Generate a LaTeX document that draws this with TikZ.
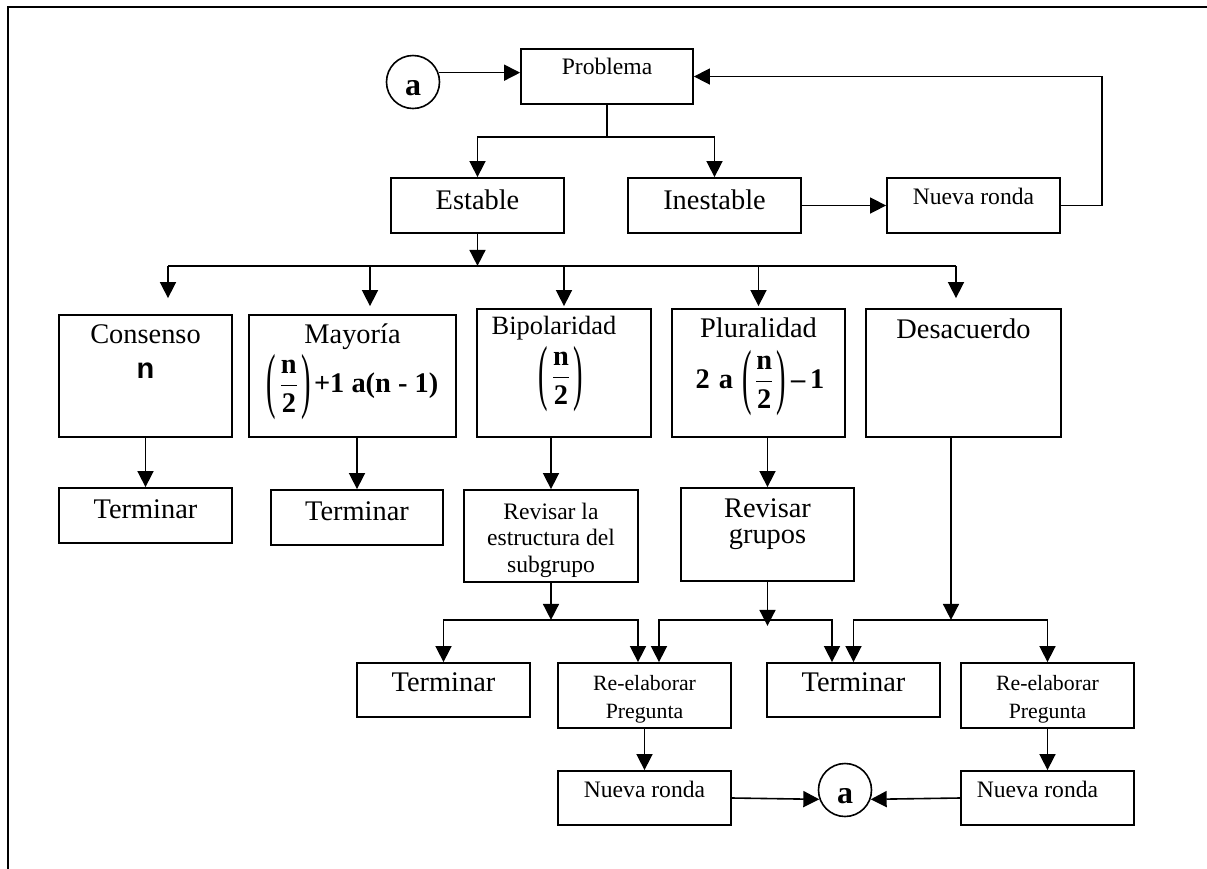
\documentclass[tikz,border=0pt]{standalone}
\usepackage{amsmath}
\usepackage{fontspec}
\setmainfont{Liberation Serif}
\newfontfamily\arialfont{Liberation Sans}
\usetikzlibrary{arrows.meta,positioning}
% tall thin brackets round n/2
\newcommand{\tallparen}[1]{\raisebox{-5.8pt}{\scalebox{1}[2.55]{\mdseries#1}}}
\newcommand{\halfn}{\tallparen{(}\kern1.2pt$\dfrac{\mbox{n}}{\mbox{2}}$\kern1.2pt\tallparen{)}}

\begin{document}
\begin{tikzpicture}[x=1pt,y=-1pt,
  caja/.style={draw,line width=0.9pt,inner sep=0pt},
  txt/.style={inner sep=0pt,align=center,font=\fontsize{14.2pt}{13.3pt}\selectfont},
  txtm/.style={txt,font=\fontsize{13.2pt}{14pt}\selectfont},
  txts/.style={txt,font=\fontsize{11.8pt}{13.2pt}\selectfont},
  txtxs/.style={txt,font=\fontsize{10.9pt}{14pt}\selectfont},
  formula/.style={inner sep=0pt,font=\fontsize{14.2pt}{16pt}\selectfont\bfseries},
  circ/.style={draw,circle,line width=0.8pt,minimum size=26.5pt,inner sep=0pt,
    text height=13pt,text depth=0pt,font=\fontsize{16pt}{16pt}\selectfont\bfseries},
  arr/.style={-{Triangle[length=8pt,width=8pt]},line width=0.8pt},
  conn/.style={line width=0.8pt}]

% Frame
\useasboundingbox (0,0) rectangle (603.5,434.5);
\draw[line width=1.2pt] (4,434.5) -- (4,3.5) -- (603.5,3.5);

% Problem and first split
\node[caja,minimum width=86pt,minimum height=27.5pt] (prob) at (303.5,38.25) {};
\node[txts,below=4.75pt of prob.north] (probT) {Problema};
\node[circ] (atop) at (206.5,41) {a};
\node[caja,minimum width=86.5pt,minimum height=27.5pt] (est) at (238.75,102.75) {};
\node[txt,below=6pt of est.north] (estT) {Estable};
\node[caja,minimum width=86.5pt,minimum height=27.5pt] (inest) at (357.25,102.75) {};
\node[txt,below=6pt of inest.north] (inestT) {Inestable};
\node[caja,minimum width=86.5pt,minimum height=27.5pt] (nr1) at (486.75,102.75) {};
\node[txts,below=5.5pt of nr1.north] (nr1T) {Nueva ronda};

% Kinds of agreement
\node[caja,minimum width=86.5pt,minimum height=61pt] (cons) at (72.75,188) {};
\node[txt,below=5pt of cons.north] (consT) {Consenso};
\node[inner sep=0pt,anchor=base,font=\arialfont\bfseries\fontsize{14.5pt}{16pt}\selectfont] (consN) at ([yshift=-1pt]cons.center) {n};
\node[caja,minimum width=103.5pt,minimum height=61pt] (may) at (176.25,188) {};
\node[txt,below=4.5pt of may.north] (mayT) {Mayoría};
\node[formula] (mayF) at ([yshift=-5.5pt]may.center) {\halfn\kern1.5pt+1 a(n - 1)};
\node[caja,minimum width=87pt,minimum height=64pt] (bip) at (282,186.5) {};
\node[txtm,below=4pt of bip.north,xshift=-5pt] (bipT) {Bipolaridad};
\node[formula] (bipF) at ([xshift=-1.5pt,yshift=-3pt]bip.center) {\halfn};
\node[caja,minimum width=86.5pt,minimum height=64pt] (plu) at (379.25,186.5) {};
\node[txt,below=4.5pt of plu.north] (pluT) {Pluralidad};
\node[formula] (pluF) at ([xshift=0.75pt,yshift=-5pt]plu.center) {2\hspace{4.5pt}a\hspace{4.5pt}\halfn\,--\,1};
\node[caja,minimum width=97.5pt,minimum height=64pt] (des) at (481.75,186.5) {};
\node[txt,below=5pt of des.north] (desT) {Desacuerdo};

% Next step
\node[caja,minimum width=86.5pt,minimum height=27.5pt] (t1) at (72.75,257.75) {};
\node[txt,below=6pt of t1.north] (t1T) {Terminar};
\node[caja,minimum width=86pt,minimum height=27.5pt] (t2) at (178.5,258.75) {};
\node[txt,below=6pt of t2.north] (t2T) {Terminar};
\node[caja,minimum width=87pt,minimum height=46pt] (rev1) at (275.5,268) {};
\node[txts,below=6.75pt of rev1.north] (rev1T) {Revisar la\\estructura del\\subgrupo};
\node[caja,minimum width=86.5pt,minimum height=46.5pt] (revg) at (383.75,267.25) {};
\node[txt,below=5.5pt of revg.north] (revgT) {Revisar\\grupos};

% Revision outcomes
\node[caja,minimum width=86.5pt,minimum height=27pt] (t3) at (221.75,345) {};
\node[txt,below=5pt of t3.north] (t3T) {Terminar};
\node[caja,minimum width=86.5pt,minimum height=32.5pt] (re1) at (322.25,347.75) {};
\node[txtxs,below=6.5pt of re1.north] (re1T) {Re-elaborar\\Pregunta};
\node[caja,minimum width=86.5pt,minimum height=27pt] (t4) at (426.75,345) {};
\node[txt,below=5pt of t4.north] (t4T) {Terminar};
\node[caja,minimum width=86.5pt,minimum height=32.5pt] (re2) at (523.75,347.75) {};
\node[txtxs,below=6.5pt of re2.north] (re2T) {Re-elaborar\\Pregunta};

% New rounds
\node[caja,minimum width=86.5pt,minimum height=27pt] (nr2) at (322.25,399) {};
\node[txts,below=5.5pt of nr2.north] (nr2T) {Nueva ronda};
\node[caja,minimum width=86.5pt,minimum height=27pt] (nr3) at (523.75,399) {};
\node[txts,below=5.5pt of nr3.north,xshift=-5pt] (nr3T) {Nueva ronda};
\node[circ] (abot) at (422.5,395) {a};

% Connectors at the top
\draw[arr] (atop.20) -- (atop.20 -| prob.west);
\draw[conn] (prob.south) -- ++(0,16) coordinate (b1);
\draw[arr] (b1) -| (est.north);
\draw[arr] (b1) -| (inest.north);
\draw[arr] (inest.east) -- (nr1.west);
\draw[arr] (nr1.east) -- ++(20.5,0) |- (prob.east);

% Estable to the five kinds
\draw[arr] (est.south) -- ++(0,16) coordinate (b2);
\draw[conn] ([xshift=11.25pt]cons.north |- b2) -- ([xshift=-3.75pt]des.north |- b2);
\draw[arr,shorten >=8pt] ([xshift=11.25pt]cons.north |- b2) -- ([xshift=11.25pt]cons.north);
\draw[arr,shorten >=4pt] ([xshift=8.75pt]may.north |- b2) -- ([xshift=8.75pt]may.north);
\draw[arr,shorten >=1pt] (bip.north |- b2) -- (bip.north);
\draw[arr,shorten >=1pt] (plu.north |- b2) -- (plu.north);
\draw[arr,shorten >=5pt] ([xshift=-3.75pt]des.north |- b2) -- ([xshift=-3.75pt]des.north);

% Kinds to next step
\draw[arr] (cons.south -| t1.north) -- (t1.north);
\draw[arr] (may.south -| t2.north) -- (t2.north);
\draw[arr] (bip.south -| rev1.north) -- (rev1.north);
\draw[arr] (plu.south -| revg.north) -- (revg.north);

% Second split
\draw[arr] (rev1.south) -- ++(0,18.5) coordinate (b3);
\draw[arr] (b3) -| (t3.north);
\draw[arr] (b3) -| ([xshift=-3.25pt]re1.north);
\draw[arr] (revg.south) -- ++(0,22);
\draw[arr] (b3 -| revg.south) -| ([xshift=7.25pt]re1.north);
\draw[arr] (b3 -| revg.south) -| ([xshift=-10.75pt]t4.north);
\draw[arr] ([xshift=-6.25pt]des.south) -- ([xshift=-6.25pt]des.south |- b3);
\draw[arr] ([xshift=-6.25pt]des.south |- b3) -| (t4.north);
\draw[arr] ([xshift=-6.25pt]des.south |- b3) -| (re2.north);

% Back to a
\draw[arr] (re1.south) -- (nr2.north);
\draw[arr] (re2.south) -- (nr3.north);
\draw[arr] (nr2.east) -- (abot.200);
\draw[arr] (nr3.west) -- (abot.-20);

\end{tikzpicture}
\end{document}
